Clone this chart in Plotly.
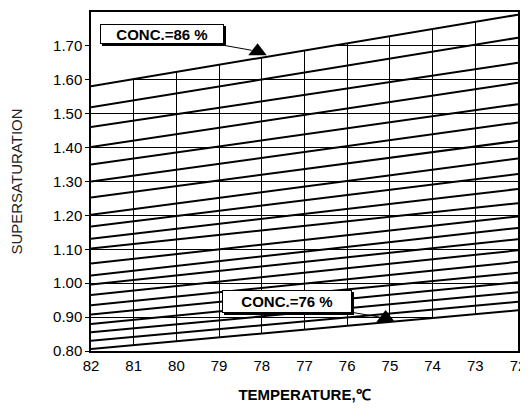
import plotly.graph_objects as go

# Concentration lines (%), top (86 %) to bottom (76 %)
CONC = [86, 85.5, 85, 84.5, 84, 83.5, 83, 82.5, 82, 81.5, 81,
        80.5, 80, 79.5, 79, 78.5, 78, 77.5, 77, 76.5, 76]
TEMPS = [82, 72]
SS_AT_82 = [1.581, 1.519, 1.461, 1.402, 1.350, 1.300, 1.253, 1.202, 1.167, 1.131, 1.102,
            1.058, 1.023, 0.996, 0.965, 0.935, 0.908, 0.880, 0.855, 0.830, 0.806]
SS_AT_72 = [1.792, 1.724, 1.650, 1.591, 1.528, 1.474, 1.420, 1.368, 1.322, 1.278, 1.236,
            1.197, 1.163, 1.130, 1.097, 1.063, 1.031, 1.003, 0.973, 0.945, 0.920]

X_TICKS = [82, 81, 80, 79, 78, 77, 76, 75, 74, 73, 72]
Y_TICKS = [0.80, 0.90, 1.00, 1.10, 1.20, 1.30, 1.40, 1.50, 1.60, 1.70]
Y_RANGE = [0.80, 1.80]

# marker points for the labels (triangles)
MARK_X = [78.1, 75.1]
MARK_Y = [1.684, 0.897]
MARK_TEXT = ["CONC.=86 %", "CONC.=76 %"]

fig = go.Figure()

# white masks above the top curve and below the bottom curve (hide grid outside the family)
fig.add_trace(go.Scatter(x=TEMPS, y=[SS_AT_82[-1], SS_AT_72[-1]], mode="lines",
                         line=dict(width=0), fill="tozeroy", fillcolor="white",
                         hoverinfo="skip", showlegend=False))
fig.add_trace(go.Scatter(x=TEMPS, y=[SS_AT_82[0], SS_AT_72[0]], mode="lines",
                         line=dict(width=0), hoverinfo="skip", showlegend=False))
fig.add_trace(go.Scatter(x=TEMPS, y=[Y_RANGE[1] + 0.2] * 2, mode="lines",
                         line=dict(width=0), fill="tonexty", fillcolor="white",
                         hoverinfo="skip", showlegend=False))

for c, a, b in zip(CONC, SS_AT_82, SS_AT_72):
    fig.add_trace(go.Scatter(x=TEMPS, y=[a, b], mode="lines", name=f"{c} %",
                             line=dict(color="black", width=2), showlegend=False))

fig.add_trace(go.Scatter(x=MARK_X, y=MARK_Y, mode="markers",
                         marker=dict(symbol="triangle-up", size=16, color="black"),
                         showlegend=False, hoverinfo="skip"))

box_offsets = [(-96, -17), (-99, -17)]
box_sizes = [(120, 16), (126, 19)]
for (mx, my, t, (ax, ay), (w, h)) in zip(MARK_X, MARK_Y, MARK_TEXT, box_offsets, box_sizes):
    # shadow
    fig.add_annotation(x=mx, y=my, ax=ax + 2, ay=ay + 2, axref="pixel", ayref="pixel",
                       text="", showarrow=True, arrowcolor="rgba(0,0,0,0)", arrowwidth=0.1,
                       bgcolor="black", width=w, height=h, borderpad=1, borderwidth=1,
                       bordercolor="black")
    fig.add_annotation(x=mx, y=my, ax=ax, ay=ay, axref="pixel", ayref="pixel",
                       text=f"<b>{t}</b>", showarrow=True, arrowhead=0, arrowwidth=1,
                       arrowcolor="black", standoff=6,
                       font=dict(family="Liberation Sans, Arial", size=15, color="black"),
                       bgcolor="white", bordercolor="black", borderwidth=1, borderpad=1,
                       width=w, height=h)

fig.update_layout(
    width=520, height=404,
    margin=dict(l=83, r=10, t=2, b=61),
    paper_bgcolor="white", plot_bgcolor="white",
    font=dict(family="Liberation Sans, Arial", color="black"),
    xaxis=dict(range=[82, 72], tickvals=X_TICKS, ticktext=[str(v) for v in X_TICKS],
               tickfont=dict(size=15, color="black"), showgrid=True, gridcolor="black",
               gridwidth=1.4, showline=True, linecolor="black", linewidth=1.5, mirror=True,
               ticks="", zeroline=False, ticklabeloverflow="allow",
               title=dict(text="<b>TEMPERATURE,℃</b>", font=dict(size=15, color="black"),
                          standoff=17)),
    yaxis=dict(range=Y_RANGE, tickvals=Y_TICKS, ticktext=[f"{v:.2f}" for v in Y_TICKS],
               tickfont=dict(size=15, color="black"), showgrid=True, gridcolor="black",
               gridwidth=1.4, showline=True, linecolor="black", linewidth=1.5, mirror=True,
               ticks="outside", ticklen=4, tickcolor="black", zeroline=False,
               title=dict(text="SUPERSATURATION", font=dict(size=15, color="#222"),
                          standoff=28)),
)

fig.write_html("out.html")
